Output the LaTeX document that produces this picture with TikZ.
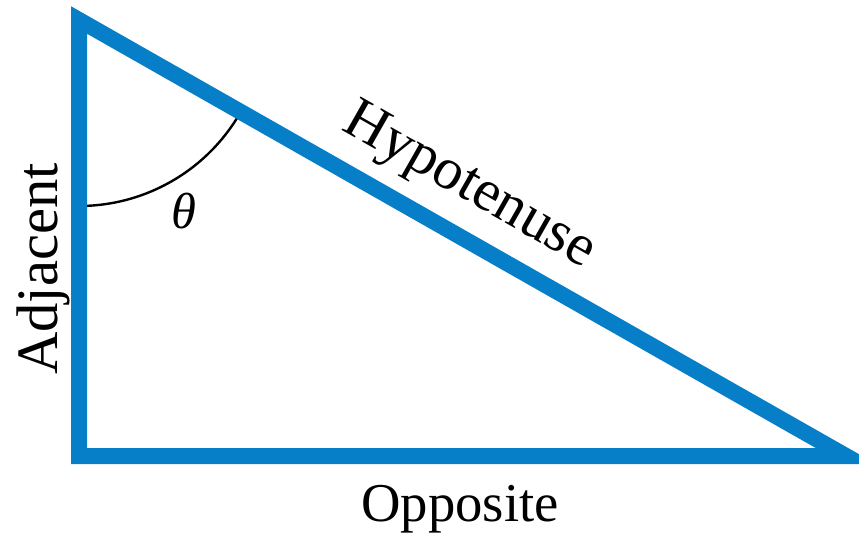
\documentclass[tikz,border=0pt]{standalone}
\usepackage{fontspec}
\setmainfont{Liberation Serif}
\usepackage{tikz}
\usetikzlibrary{positioning}
\definecolor{triBlue}{RGB}{6,126,200}
\tikzset{
    triSide/.style={
        draw=triBlue,
        line width=12pt,
        line join=miter
    },
    angleArc/.style={
        draw=black,
        line width=1.8pt
    },
    sideLabel/.style={
        font=\fontsize{44}{50}\selectfont,
        inner sep=0pt
    }
}

\begin{document}
\begin{tikzpicture}[x=0.75pt,y=-0.75pt]
    \useasboundingbox (0,0) rectangle (859,539);
    \coordinate (top) at (79,20);
    \coordinate (corner) at (79,456);
    \coordinate (tip) at (846,456);

    % angle at the top corner
    \draw[angleArc] (top) ++(0,186) arc[start angle=270, end angle=330.3, radius=139.5pt];

    \draw[triSide] (top) -- (corner) -- (tip) -- cycle;

    \node[sideLabel,rotate=90,anchor=base] (adjacent) at (57,269) {Adjacent};
    \node[sideLabel,font=\fontsize{41}{46}\selectfont,anchor=base] (opposite) at (460,521) {Opposite};
    \path (top) -- (tip) node[sideLabel,sloped,pos=0.478,above=16pt] (hypotenuse) {Hypotenuse};
    \node[font=\fontsize{38}{42}\selectfont\itshape] (theta) at (184,211) {θ};
\end{tikzpicture}
\end{document}
